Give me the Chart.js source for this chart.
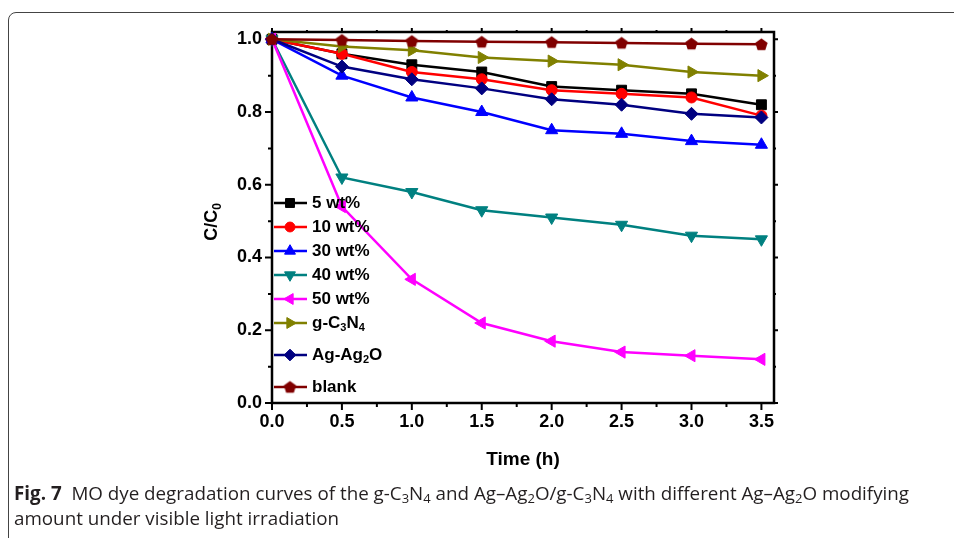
<!DOCTYPE html>
<html>
<head>
<meta charset="utf-8">
<title>MO dye degradation curves</title>
<script src="https://cdn.jsdelivr.net/npm/chart.js@4/dist/chart.umd.min.js"></script>
<style>
    html, body { margin: 0; padding: 0; background: #fff; }
    body { width: 954px; height: 538px; position: relative; overflow: hidden; }
    #frame {
        position: absolute; left: 8px; top: 12px; width: 990px; height: 580px;
        border: 1px solid #444; border-radius: 8px;
    }
    #chart { position: absolute; left: 0; top: 0; }
    #caption {
        position: absolute; left: 14px; top: 481px;
        font-family: 'Open Sans', sans-serif; font-size: 18.8px; line-height: 25px;
        color: #231f20; white-space: nowrap;
    }
    #caption sub { font-size: 13px; vertical-align: -3px; line-height: 0; }
</style>
</head>
<body>
<div id="frame"></div>
<canvas id="chart" width="954" height="538"></canvas>
<div id="caption"><b>Fig. 7</b>&nbsp; MO dye degradation curves of the g-C<sub>3</sub>N<sub>4</sub> and Ag–Ag<sub>2</sub>O/g-C<sub>3</sub>N<sub>4</sub> with different Ag–Ag<sub>2</sub>O modifying<br>amount under visible light irradiation</div>

<script>
// Data (C/C0 vs time)
const timeHours = [0, 0.5, 1.0, 1.5, 2.0, 2.5, 3.0, 3.5];
const seriesNames = ['5 wt%', '10 wt%', '30 wt%', '40 wt%', '50 wt%', 'g-C_3N_4', 'Ag-Ag_2O', 'blank'];
const wt5 = [1.0, 0.96, 0.93, 0.91, 0.87, 0.86, 0.85, 0.82];
const wt10 = [1.0, 0.96, 0.91, 0.89, 0.86, 0.85, 0.84, 0.79];
const wt30 = [1.0, 0.90, 0.84, 0.80, 0.75, 0.74, 0.72, 0.71];
const wt40 = [1.0, 0.62, 0.58, 0.53, 0.51, 0.49, 0.46, 0.45];
const wt50 = [1.0, 0.54, 0.34, 0.22, 0.17, 0.14, 0.13, 0.12];
const gC3N4 = [1.0, 0.98, 0.97, 0.95, 0.94, 0.93, 0.91, 0.90];
const agAg2O = [1.0, 0.925, 0.89, 0.865, 0.835, 0.82, 0.795, 0.785];
const blank = [1.0, 0.998, 0.995, 0.993, 0.992, 0.990, 0.988, 0.986];
const xTickValues = [0, 0.5, 1.0, 1.5, 2.0, 2.5, 3.0, 3.5];
const yTickValues = [0, 0.2, 0.4, 0.6, 0.8, 1.0];

// Styles
const FONT = "'Liberation Sans', Arial, sans-serif";
const seriesColors = ['#000000', '#ff0000', '#0000ff', '#008080', '#ff00ff', '#808000', '#000080', '#800000'];
const seriesRotation = [0, 0, 0, 180, 270, 90, 0, 0];
const seriesRadius = [7, 5.5, 7, 7, 7, 7, 6.5, 7];

function makePentagon(color, r) {
    const c = document.createElement('canvas');
    const s = Math.ceil(r * 2) + 2;
    c.width = s;
    c.height = s;
    const g = c.getContext('2d');
    g.fillStyle = color;
    g.beginPath();
    for (let i = 0; i < 5; i++) {
        const a = -Math.PI / 2 + i * 2 * Math.PI / 5;
        g.lineTo(s / 2 + r * Math.cos(a), s / 2 + 0.5 + r * Math.sin(a));
    }
    g.closePath();
    g.fill();
    return c;
}

const seriesShapes = ['rect', 'circle', 'triangle', 'triangle', 'triangle', 'triangle', 'rectRot', makePentagon('#800000', 6.5)];
const seriesValues = [wt5, wt10, wt30, wt40, wt50, gC3N4, agAg2O, blank];

const datasets = seriesValues.map((vals, i) => ({
    label: seriesNames[i],
    data: vals.map((v, k) => ({ x: timeHours[k], y: v })),
    borderColor: seriesColors[i],
    backgroundColor: seriesColors[i],
    pointBackgroundColor: seriesColors[i],
    pointBorderColor: seriesColors[i],
    pointBorderWidth: 1,
    pointStyle: seriesShapes[i],
    pointRotation: seriesRotation[i],
    pointRadius: seriesRadius[i],
    borderWidth: 2.5,
    tension: 0,
    clip: false,
    order: seriesValues.length - 1 - i
}));

// Draws text with "_d" subscripts
function drawRichText(ctx, text, x, y, size) {
    const parts = text.split(/(_\d)/);
    let cx = x;
    parts.forEach(p => {
        if (!p) return;
        if (p[0] === '_') {
            ctx.font = 'bold ' + Math.round(size * 0.65) + 'px ' + FONT;
            ctx.fillText(p[1], cx, y + size * 0.32);
            cx += ctx.measureText(p[1]).width;
        } else {
            ctx.font = 'bold ' + size + 'px ' + FONT;
            ctx.fillText(p, cx, y);
            cx += ctx.measureText(p).width;
        }
    });
    return cx - x;
}

function measureRichText(ctx, text, size) {
    let w = 0;
    text.split(/(_\d)/).forEach(p => {
        if (!p) return;
        if (p[0] === '_') {
            ctx.font = 'bold ' + Math.round(size * 0.65) + 'px ' + FONT;
            w += ctx.measureText(p[1]).width;
        } else {
            ctx.font = 'bold ' + size + 'px ' + FONT;
            w += ctx.measureText(p).width;
        }
    });
    return w;
}

// Axis box with major/minor ticks on all four sides
const axisBoxPlugin = {
    id: 'axisBox',
    beforeDatasetsDraw(chart) {
        const ctx = chart.ctx;
        const { left, right, top, bottom } = chart.chartArea;
        const xs = chart.scales.x;
        const ys = chart.scales.y;
        ctx.save();
        ctx.strokeStyle = '#000';
        ctx.lineWidth = 2.5;
        ctx.strokeRect(left, top, right - left, bottom - top);

        ctx.lineWidth = 2;
        ctx.beginPath();
        const xMinor = xTickValues.map(v => v + 0.25).filter(v => v < xs.max);
        const yMinor = yTickValues.map(v => v + 0.1).filter(v => v < ys.max);
        xTickValues.forEach(v => {
            const px = xs.getPixelForValue(v);
            ctx.moveTo(px, bottom); ctx.lineTo(px, bottom + 7);
            ctx.moveTo(px, top); ctx.lineTo(px, top - 4);
        });
        xMinor.forEach(v => {
            const px = xs.getPixelForValue(v);
            ctx.moveTo(px, bottom); ctx.lineTo(px, bottom + 4);
            ctx.moveTo(px, top); ctx.lineTo(px, top - 2);
        });
        yTickValues.forEach(v => {
            const py = ys.getPixelForValue(v);
            ctx.moveTo(left, py); ctx.lineTo(left - 7, py);
            ctx.moveTo(right, py); ctx.lineTo(right + 4, py);
        });
        yMinor.forEach(v => {
            const py = ys.getPixelForValue(v);
            ctx.moveTo(left, py); ctx.lineTo(left - 4, py);
            ctx.moveTo(right, py); ctx.lineTo(right + 2, py);
        });
        ctx.stroke();
        ctx.restore();
    }
};

// Legend inside the plot and the y-axis title with subscript
const legendPlugin = {
    id: 'insideLegend',
    afterDatasetsDraw(chart) {
        const ctx = chart.ctx;
        const drawPoint = Chart.helpers && Chart.helpers.drawPoint;
        const left = chart.chartArea.left;
        ctx.save();
        ctx.textBaseline = 'middle';
        ctx.textAlign = 'left';
        let rowY = 203;
        chart.data.datasets.forEach((ds, i) => {
            ctx.strokeStyle = ds.borderColor;
            ctx.lineWidth = 2.5;
            ctx.beginPath();
            ctx.moveTo(left + 2, rowY);
            ctx.lineTo(left + 35, rowY);
            ctx.stroke();
            ctx.fillStyle = ds.pointBackgroundColor;
            ctx.lineWidth = 1;
            if (drawPoint) {
                drawPoint(ctx, {
                    pointStyle: ds.pointStyle,
                    rotation: ds.pointRotation,
                    radius: ds.pointRadius * 0.9,
                    borderWidth: 1
                }, left + 18, rowY);
            }
            ctx.fillStyle = '#000';
            drawRichText(ctx, ds.label, left + 40, rowY, 17);
            rowY += 24 + (ds.label.indexOf('_') >= 0 ? 8 : 0);
        });

        // y-axis title "C/C0"
        const title = 'C/C_0';
        const w = measureRichText(ctx, title, 18);
        ctx.translate(212, 222);
        ctx.rotate(-Math.PI / 2);
        ctx.fillStyle = '#000';
        drawRichText(ctx, title, -w / 2, 0, 18);
        ctx.restore();
    }
};

const tickFont = { family: FONT, size: 18, weight: 'bold' };

new Chart(document.getElementById('chart'), {
    type: 'line',
    data: { datasets: datasets },
    options: {
        responsive: false,
        animation: false,
        events: [],
        layout: { padding: { left: 0, top: 32, right: 180, bottom: 60 } },
        plugins: {
            legend: { display: false },
            tooltip: { enabled: false }
        },
        scales: {
            x: {
                type: 'linear',
                min: 0,
                max: 3.59,
                grid: { display: false, drawTicks: false },
                border: { display: false },
                ticks: {
                    includeBounds: false,
                    color: '#000',
                    font: tickFont,
                    padding: 8,
                    maxRotation: 0,
                    autoSkip: false,
                    callback: v => Number(v).toFixed(1)
                },
                afterBuildTicks: s => { s.ticks = xTickValues.map(v => ({ value: v })); },
                afterFit: s => { s.height = 75; },
                title: {
                    display: true,
                    text: 'Time (h)',
                    color: '#000',
                    font: { family: FONT, size: 19, weight: 'bold' },
                    padding: { top: 0, bottom: 7 }
                }
            },
            y: {
                type: 'linear',
                min: 0,
                max: 1.02,
                grid: { display: false, drawTicks: false },
                border: { display: false },
                ticks: {
                    includeBounds: false,
                    color: '#000',
                    font: tickFont,
                    padding: 10,
                    autoSkip: false,
                    callback: v => Number(v).toFixed(1)
                },
                afterBuildTicks: s => { s.ticks = yTickValues.map(v => ({ value: v })); },
                afterFit: s => { s.width = 272; }
            }
        }
    },
    plugins: [axisBoxPlugin, legendPlugin]
});
</script>
</body>
</html>
